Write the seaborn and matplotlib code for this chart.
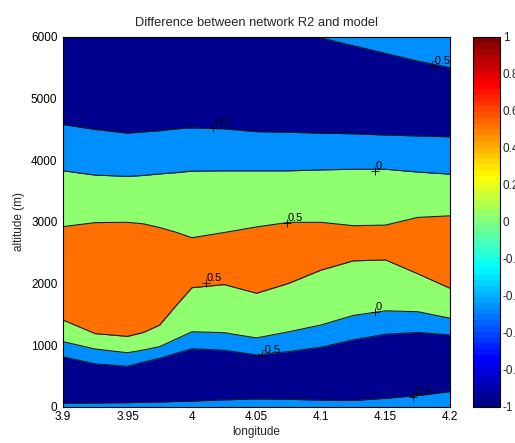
import numpy as np
import pandas as pd
import matplotlib
matplotlib.use("Agg")
import matplotlib.pyplot as plt
import seaborn as sns
from matplotlib.colors import LinearSegmentedColormap, Normalize
from matplotlib.cm import ScalarMappable

sns.set_style("white")
plt.rcParams["font.family"] = ["Liberation Sans", "DejaVu Sans"]
plt.rcParams["axes.unicode_minus"] = False

# ==============================
# data
# ==============================
lon = [3.9, 3.925, 3.95, 3.9625, 3.975, 3.9875, 4.0, 4.025, 4.05, 4.075,
       4.1, 4.125, 4.15, 4.175, 4.2]

# altitude (m) of each contour line along the longitudes
bot_m05 = [60, 65, 70, 75, 80, 88, 95, 115, 130, 125, 110, 105, 140, 185, 250]
lo_m05 = [815, 700, 660, 730, 790, 870, 945, 920, 845, 900, 970, 1090, 1180, 1210, 1170]
lo_0 = [1060, 940, 880, 925, 980, 1100, 1220, 1205, 1120, 1220, 1330, 1485, 1560, 1545, 1440]
lo_05 = [1410, 1190, 1145, 1210, 1330, 1640, 1935, 1985, 1845, 2005, 2220, 2370, 2385, 2160, 1925]
up_05 = [2925, 2990, 2995, 2970, 2910, 2835, 2745, 2830, 2920, 2995, 2995, 2940, 2950, 3075, 3100]
up_0 = [3830, 3760, 3740, 3755, 3780, 3800, 3825, 3830, 3830, 3830, 3845, 3855, 3855, 3810, 3775]
up_m05 = [4580, 4500, 4440, 4460, 4480, 4510, 4525, 4510, 4465, 4455, 4440, 4430, 4410, 4395, 4380]

top_lon = [4.097, 4.125, 4.15, 4.175, 4.2]
top_m05 = [6000, 5860, 5735, 5610, 5505]

# contour labels
label_lon = [4.016, 4.142, 4.074, 4.011, 4.142, 4.054, 4.171, 4.186]
label_alt = [4519, 3827, 2979, 2005, 1546, 843, 167, 5535]
label_txt = ["-0.5", "0", "0.5", "0.5", "0", "-0.5", "-0.5", "-0.5"]

cbar_ticks = [-1, -0.8, -0.6, -0.4, -0.2, 0, 0.2, 0.4, 0.6, 0.8, 1]
x_ticks = [3.9, 3.95, 4.0, 4.05, 4.1, 4.15, 4.2]
y_ticks = [0, 1000, 2000, 3000, 4000, 5000, 6000]

# MATLAB jet
jet = LinearSegmentedColormap.from_list(
    "mjet",
    [(0, (0, 0, 0.5)), (1 / 8, (0, 0, 1)), (3 / 8, (0, 1, 1)),
     (5 / 8, (1, 1, 0)), (7 / 8, (1, 0, 0)), (1, (0.5, 0, 0))], N=64)
navy = (0, 0, 0.5625)
lblue = (0, 0.5625, 1)
green = (0.5625, 1, 0.4375)
orange = (1, 0.4375, 0)

fig = plt.figure(figsize=(5.15, 4.43), dpi=100)
ax = fig.add_axes([0.1223, 0.0813, 0.7515, 0.8352])
cax = fig.add_axes([0.9184, 0.0813, 0.0524, 0.8352])

ax.fill_between(lon, 0, 6000, color=navy, lw=0)
ax.fill_between(lon, 0, bot_m05, color=lblue, lw=0)
ax.fill_between(lon, lo_m05, lo_0, color=lblue, lw=0)
ax.fill_between(lon, lo_0, lo_05, color=green, lw=0)
ax.fill_between(lon, lo_05, up_05, color=orange, lw=0)
ax.fill_between(lon, up_05, up_0, color=green, lw=0)
ax.fill_between(lon, up_0, up_m05, color=lblue, lw=0)
ax.fill_between(top_lon, top_m05, 6000, color=lblue, lw=0)

# contour lines
lines = {"bot_m05": bot_m05, "lo_m05": lo_m05, "lo_0": lo_0, "lo_05": lo_05,
         "up_05": up_05, "up_0": up_0, "up_m05": up_m05}
parts = [pd.DataFrame({"lon": lon, "alt": v, "line": k}) for k, v in lines.items()]
parts.append(pd.DataFrame({"lon": top_lon, "alt": top_m05, "line": "top"}))
df_lines = pd.concat(parts, ignore_index=True)
sns.lineplot(data=df_lines, x="lon", y="alt", units="line", estimator=None,
             color="#1a1a1a", lw=0.75, legend=False, ax=ax)

# contour labels (MATLAB style "+" marker)
ax.plot(label_lon, label_alt, "+", color="black", ms=6, mew=0.6)
for lx, ly, t in zip(label_lon, label_alt, label_txt):
    ax.text(lx, ly, t, fontsize=8, ha="left", va="bottom", color="black", clip_on=True)

ax.set_xlim(3.9, 4.2)
ax.set_ylim(0, 6000)
ax.set_xticks(x_ticks)
ax.set_xticklabels(["3.9", "3.95", "4", "4.05", "4.1", "4.15", "4.2"])
ax.set_yticks(y_ticks)
ax.tick_params(direction="in", length=4, width=0.6, labelsize=8.5,
               top=True, right=True, bottom=True, left=True, colors="black")
ax.tick_params(axis="y", pad=4)
ax.tick_params(axis="x", pad=3)
for s in ax.spines.values():
    s.set_color("black")
    s.set_linewidth(0.8)
ax.set_xlabel("longitude", fontsize=8.5, labelpad=2)
ax.set_ylabel("altitude (m)", fontsize=8.5, labelpad=4)
ax.set_title("Difference between network R2 and model", fontsize=9.3, pad=8)

cbar = fig.colorbar(ScalarMappable(norm=Normalize(-1, 1), cmap=jet), cax=cax, ticks=cbar_ticks)
cbar.ax.set_yticklabels(["%g" % t for t in cbar_ticks])
cax.tick_params(direction="in", length=3, width=0.6, labelsize=8.5,
                left=True, right=True, pad=2)
cbar.outline.set_edgecolor("black")
cbar.outline.set_linewidth(0.8)

fig.savefig("out.png", dpi=100)
plt.close(fig)
